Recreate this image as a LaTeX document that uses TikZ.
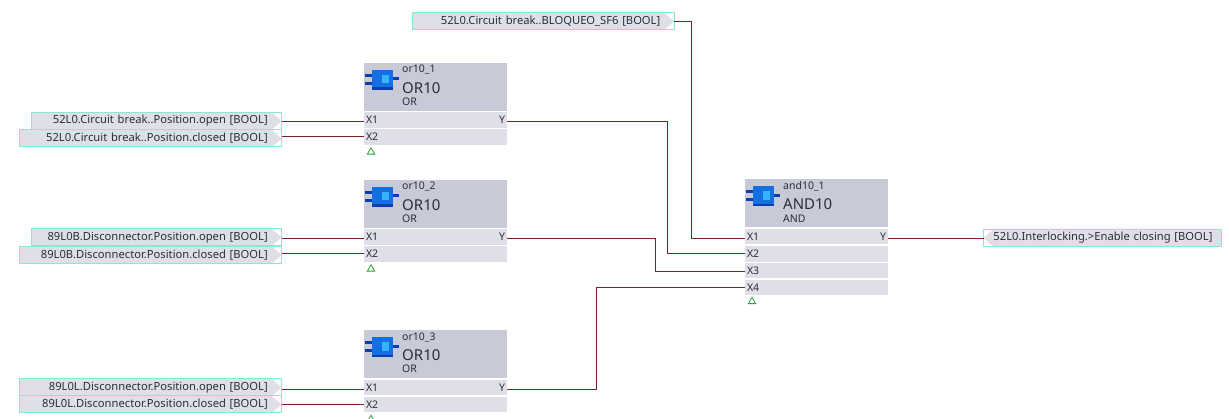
\documentclass[tikz,border=0pt]{standalone}
\usepackage{fontspec}
\setmainfont{Noto Sans}
\usetikzlibrary{shapes.geometric}
\definecolor{hdrgray}{HTML}{C8CAD8}
\definecolor{rowgray}{HTML}{DFDFE8}
\definecolor{sigedge}{HTML}{84EBCC}
\definecolor{wirered}{HTML}{7E1F2B}
\definecolor{inktext}{HTML}{2B2D3A}
\definecolor{trigreen}{HTML}{2E9E3A}
\definecolor{icondark}{HTML}{0A3FB0}
\definecolor{iconmid}{HTML}{1470E0}
\definecolor{iconlight}{HTML}{35B4FF}
\tikzset{
    small/.style={font=\fontsize{10.5}{12}\selectfont, text=inktext},
    sigbox/.style={font=\fontsize{11.2}{13}\selectfont, text=inktext, draw=sigedge, line width=1pt, fill=white, minimum height=17pt, inner ysep=0pt, outer sep=0pt, align=right, text width=#1},
    sigin/.style={sigbox=#1, inner xsep=14pt, anchor=east, path picture={
        \fill[rowgray] (path picture bounding box.south west) -- (path picture bounding box.north west)
            -- ([xshift=-10pt]path picture bounding box.north east) -- (path picture bounding box.east)
            -- ([xshift=-10pt]path picture bounding box.south east) -- cycle;}},
    sigout/.style={sigbox=#1, inner xsep=9pt, anchor=west, path picture={
        \fill[rowgray] (path picture bounding box.south east) -- (path picture bounding box.north east)
            -- ([xshift=10pt]path picture bounding box.north west) -- (path picture bounding box.west)
            -- ([xshift=10pt]path picture bounding box.south west) -- cycle;}},
    header/.style={fill=hdrgray, minimum width=143pt, minimum height=48pt, inner sep=0pt, outer sep=0pt, anchor=north west},
    portrow/.style={small, fill=rowgray, text width=139pt, align=left, inner xsep=2pt, inner ysep=0pt, minimum height=15.4pt, outer sep=0pt, anchor=west},
    portend/.style={small, inner xsep=2pt, inner ysep=0pt, outer sep=0pt, anchor=east},
    instname/.style={small, inner sep=0pt, anchor=west},
    typename/.style={font=\fontsize{15}{17}\selectfont, text=inktext, inner sep=0pt, anchor=west},
    famname/.style={small, inner sep=0pt, anchor=west},
    trig/.style={regular polygon, regular polygon sides=3, draw=trigreen, line width=0.8pt, inner sep=0pt, minimum size=8.5pt},
    wire/.style={draw=wirered, line width=1pt},
    blockicon/.pic={
        \fill[icondark] (1,11) rectangle (9,14);
        \fill[icondark] (1,19) rectangle (9,22);
        \fill[icondark] (28,14.5) rectangle (35,17.5);
        \fill[iconmid] (8,7) rectangle (29,27);
        \fill[icondark] (8,24.5) rectangle (29,27);
        \fill[iconlight] (17.5,12) rectangle (25,20.5);
    }
}
\begin{document}
\begin{tikzpicture}[x=1pt, y=-1pt]
    \clip (0,0) rectangle (1229,419);
    % or10_1
    \node[header] (orhdra) at (364,62.7) {};
    \pic at (364,62.7) {blockicon};
    \node[instname] (ornamea) at (402,70) {or10\_1};
    \node[typename] (ortypea) at (402,87.7) {OR10};
    \node[famname] (orfama) at (402,101.7) {OR};
    \node[portrow] (oraxa) at (364,120) {X1};
    \node[portrow] (oraxb) at (364,137) {X2};
    \node[portend] (oray) at (507,120) {Y};
    \node[trig] (oratri) at (371,152) {};
    % or10_2
    \node[header] (orhdrb) at (364,179.7) {};
    \pic at (364,179.7) {blockicon};
    \node[instname] (ornameb) at (402,187) {or10\_2};
    \node[typename] (ortypeb) at (402,204.7) {OR10};
    \node[famname] (orfamb) at (402,218.7) {OR};
    \node[portrow] (orbxa) at (364,237) {X1};
    \node[portrow] (orbxb) at (364,254) {X2};
    \node[portend] (orby) at (507,237) {Y};
    \node[trig] (orbtri) at (371,269) {};
    % or10_3
    \node[header] (orhdrc) at (364,330.2) {};
    \pic at (364,330.2) {blockicon};
    \node[instname] (ornamec) at (402,337.5) {or10\_3};
    \node[typename] (ortypec) at (402,355.2) {OR10};
    \node[famname] (orfamc) at (402,369.2) {OR};
    \node[portrow] (orcxa) at (364,387.5) {X1};
    \node[portrow] (orcxb) at (364,404.5) {X2};
    \node[portend] (orcy) at (507,387.5) {Y};
    \node[trig] (orctri) at (371,419.5) {};
    % and10_1
    \node[header] (andhdr) at (745,179.5) {};
    \pic at (745,179.5) {blockicon};
    \node[instname] (andname) at (783,186.5) {and10\_1};
    \node[typename] (andtype) at (783,204.5) {AND10};
    \node[famname] (andfam) at (783,218.5) {AND};
    \node[portrow] (andxa) at (745,236.7) {X1};
    \node[portrow] (andxb) at (745,254) {X2};
    \node[portrow] (andxc) at (745,270.5) {X3};
    \node[portrow] (andxd) at (745,287.3) {X4};
    \node[portend] (andy) at (888,236.7) {Y};
    \node[trig] (andtri) at (752,301.5) {};
    % signals
    \node[sigin=222pt] (sigaa) at (281.7,121) {52L0.Circuit break..Position.open [BOOL]};
    \node[sigin=234pt] (sigab) at (281.7,138.5) {52L0.Circuit break..Position.closed [BOOL]};
    \node[sigin=222pt] (sigba) at (281.7,237.5) {89L0B.Disconnector.Position.open [BOOL]};
    \node[sigin=234pt] (sigbb) at (281.7,255) {89L0B.Disconnector.Position.closed [BOOL]};
    \node[sigin=234pt] (sigca) at (281.7,387.5) {89L0L.Disconnector.Position.open [BOOL]};
    \node[sigin=234pt] (sigcb) at (281.7,404.5) {89L0L.Disconnector.Position.closed [BOOL]};
    \node[sigin=234pt] (sigsf) at (674.3,21.5) {52L0.Circuit break..BLOQUEO\_SF6 [BOOL]};
    \node[sigout=220pt] (sigen) at (983.5,238) {52L0.Interlocking.>Enable closing [BOOL]};
    % wires
    \coordinate (pinaa) at ([yshift=-1.6pt]oraxa.west);
    \coordinate (pinab) at (oraxb.west);
    \coordinate (pinba) at ([yshift=-1.6pt]orbxa.west);
    \coordinate (pinbb) at (orbxb.west);
    \coordinate (pinca) at ([yshift=-1.6pt]orcxa.west);
    \coordinate (pincb) at (orcxb.west);
    \draw[wire] (sigaa.east |- pinaa) -- (pinaa);
    \draw[wire] (sigab.east |- pinab) -- (pinab);
    \draw[wire] (sigba.east |- pinba) -- (pinba);
    \draw[wire] (sigbb.east |- pinbb) -- (pinbb);
    \draw[wire] (sigca.east |- pinca) -- (pinca);
    \draw[wire] (sigcb.east |- pincb) -- (pincb);
    \coordinate (pinxa) at ([yshift=-1.6pt]andxa.west);
    \coordinate (pinxb) at (andxb.west);
    \coordinate (pinxc) at ([yshift=-1.5pt]andxc.west);
    \coordinate (pinxd) at ([yshift=-0.7pt]andxd.west);
    \coordinate (outa) at ([yshift=-1.6pt]oray.east);
    \coordinate (outb) at ([yshift=-1.6pt]orby.east);
    \coordinate (outc) at ([yshift=-1.6pt]orcy.east);
    \coordinate (outy) at ([yshift=-1.6pt]andy.east);
    \draw[wire] (sigsf.east) -- (691.7,21.5) -- (691.7,0 |- pinxa) -- (pinxa);
    \draw[wire] (outa) -- (667.7,0 |- outa) -- (667.7,0 |- pinxb) -- (pinxb);
    \draw[wire] (outb) -- (655.7,0 |- outb) -- (655.7,0 |- pinxc) -- (pinxc);
    \draw[wire] (outc) -- (596,0 |- outc) -- (596,0 |- pinxd) -- (pinxd);
    \draw[wire] (outy) -- (sigen.west |- outy);
\end{tikzpicture}
\end{document}
